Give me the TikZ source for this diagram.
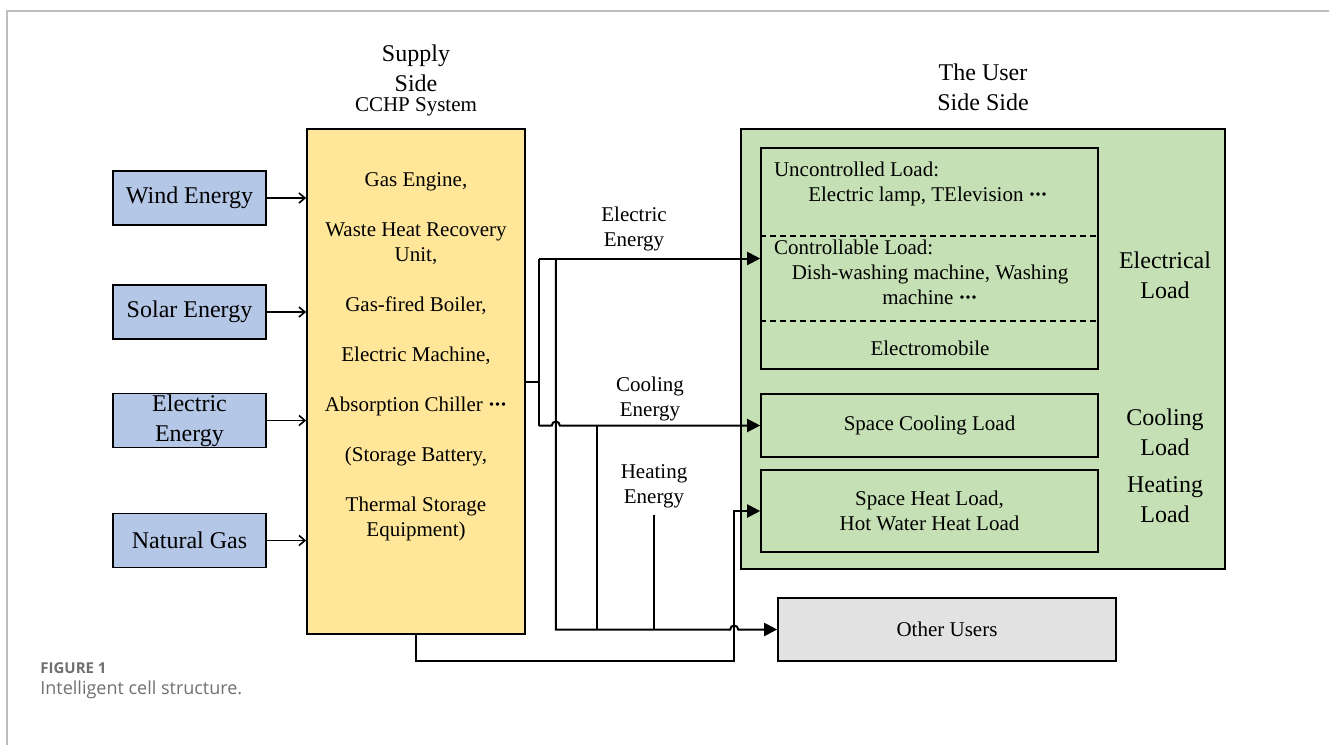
\documentclass[tikz,border=0pt]{standalone}
\usepackage{fontspec}
\setmainfont{Liberation Serif}
\newfontfamily\capfont{Open Sans}
\usetikzlibrary{arrows.meta}
\definecolor{srcblue}{HTML}{B4C7E7}
\definecolor{chpyellow}{HTML}{FFE699}
\definecolor{usergreen}{HTML}{C5E0B4}
\definecolor{othergray}{HTML}{E2E2E2}
\definecolor{framegray}{HTML}{BDBDBD}
\definecolor{capgray}{HTML}{707070}
\newcommand{\etcdots}{\textbf{\textperiodcentered\kern-0.5pt\textperiodcentered\kern-0.5pt\textperiodcentered}}
\begin{document}
\begin{tikzpicture}[x=0.5pt,y=-0.5pt,
		box/.style={draw,line width=0.8pt,inner sep=0pt},
		big/.style={font=\fontsize{12}{15}\selectfont,align=center},
		small/.style={font=\fontsize{10.5}{12.5}\selectfont,align=center},
		feed/.style={line width=0.8pt,-{Straight Barb[length=3pt,width=5pt]}},
		flow/.style={line width=1pt,-{Triangle[length=6.5pt,width=6.5pt]}},
		wire/.style={line width=1pt}]
	\useasboundingbox (0,0) rectangle (1329,745);
	\draw[framegray,line width=0.6pt] (7,745) -- (7,11) -- (1329,11);
	% supply side
	\node[big] (supply) at (416,68) {Supply\\Side};
	\node[small] (cchp) at (416,107) {CCHP System};
	\node[box,fill=chpyellow,minimum width=109pt,minimum height=252.5pt] (chp) at (416,381.5) {};
	\node[small] (chpitems) at (416,357) {Gas Engine,\\[12.5pt]
		Waste Heat Recovery\\Unit,\\[12.5pt]
		Gas-fired Boiler,\\[12.5pt]
		Electric Machine,\\[12.5pt]
		Absorption Chiller \etcdots\\[12.5pt]
		(Storage Battery,\\[12.5pt]
		Thermal Storage\\Equipment)};
	\node[box,big,fill=srcblue,minimum width=76.5pt,minimum height=27pt] (wind) at (189.5,198) {Wind Energy};
	\node[box,big,fill=srcblue,minimum width=76.5pt,minimum height=27pt] (solar) at (189.5,312) {Solar Energy};
	\node[box,big,fill=srcblue,minimum width=76.5pt,minimum height=27pt] (elecin) at (189.5,420.5) {Electric\\Energy};
	\node[box,big,fill=srcblue,minimum width=76.5pt,minimum height=27pt] (gas) at (189.5,540.5) {Natural Gas};
	\foreach \s in {wind,solar,elecin,gas}
		\draw[feed] (\s.east) -- (\s.east -| chp.west);
	% user side
	\node[big] (usertitle) at (983,87) {The User\\Side Side};
	\node[box,fill=usergreen,minimum width=242pt,minimum height=220pt] (user) at (983,349) {};
	\node[box,minimum width=168.5pt,minimum height=110.5pt] (elec) at (929.5,258.5) {};
	\draw[line width=0.8pt,dash pattern=on 3pt off 2pt] ([yshift=-44.5pt]elec.north west) -- ([yshift=-44.5pt]elec.north east);
	\draw[line width=0.8pt,dash pattern=on 3pt off 2pt] ([yshift=-87pt]elec.north west) -- ([yshift=-87pt]elec.north east);
	\node[small,anchor=west] (unctl) at (767,169) {Uncontrolled Load:};
	\node[small] (unctlitems) at (928,196) {Electric lamp, TElevision \etcdots};
	\node[small,anchor=west] (ctl) at (767,247) {Controllable Load:};
	\node[small] (ctlitems) at (930,285) {Dish-washing machine, Washing\\machine \etcdots};
	\node[small] (emob) at (930,348) {Electromobile};
	\node[box,small,minimum width=168.5pt,minimum height=31.5pt] (cool) at (929.5,425.5) {Space Cooling Load};
	\node[box,small,minimum width=168.5pt,minimum height=41pt] (heat) at (929.5,511) {Space Heat Load,\\Hot Water Heat Load};
	\node[big] (elecload) at (1165,275) {Electrical\\Load};
	\node[big] (coolload) at (1165,432) {Cooling\\Load};
	\node[big] (heatload) at (1165,500) {Heating\\Load};
	\node[box,small,fill=othergray,minimum width=169pt,minimum height=31.5pt] (other) at (947,629.5) {Other Users};
	% energy flows
	\node[small] (elbl) at (634,229) {Electric\\Energy};
	\node[small] (clbl) at (650,399) {Cooling\\Energy};
	\node[small] (hlbl) at (654,486) {Heating\\Energy};
	\coordinate (bus) at ([xshift=6.5pt]chp.east);
	\coordinate (elbus) at (bus |- elec.west);
	\coordinate (cobus) at (bus |- cool.west);
	\coordinate (drop) at ([xshift=8.5pt]elbus);
	\coordinate (cotap) at (597,425.5);
	\coordinate (hloop) at ([xshift=-13pt]heat.west);
	\draw[wire] (chp.east) -- (bus) (elbus) -- (cobus);
	\draw[flow] (elbus) -- (elec.west);
	\draw[flow] (cobus) -- ([xshift=-2pt]cobus -| drop) arc[start angle=180,end angle=0,radius=2pt] -- (cool.west);
	\draw[flow] (drop) -- (drop |- other.west) -- ([xshift=-2pt]hloop |- other.west) arc[start angle=180,end angle=0,radius=2pt] -- (other.west);
	\draw[wire] (cotap) -- (cotap |- other.west);
	\draw[wire] (hlbl.south) -- (hlbl.south |- other.west);
	\draw[flow] (chp.south) -- ++(0,26) -| (hloop) -- (heat.west);
	% caption
	\node[anchor=base west,inner sep=0pt,text=capgray,font=\capfont\fontsize{7.5}{9}\selectfont\bfseries] (fig) at (40,673) {FIGURE 1};
	\node[anchor=base west,inner sep=0pt,text=capgray,font=\capfont\fontsize{9}{11}\selectfont] (caption) at (40,694) {Intelligent cell structure.};
\end{tikzpicture}
\end{document}
